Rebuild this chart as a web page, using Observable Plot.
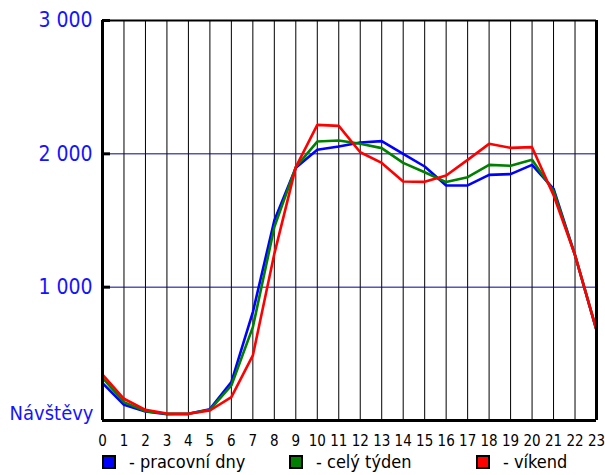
<!DOCTYPE html>
<html>
<head>
<meta charset="utf-8">
<script src="https://cdn.jsdelivr.net/npm/d3@7"></script>
<script src="https://cdn.jsdelivr.net/npm/@observablehq/plot@0.6"></script>
<style>
  html, body { margin: 0; padding: 0; background: #fff; }
  #wrap { position: relative; width: 605px; height: 475px; overflow: hidden; font-family: "DejaVu Sans Condensed", "DejaVu Sans", sans-serif; }
  #chart { position: absolute; left: 0; top: 0; }
  #legend { position: absolute; left: 0; top: 452px; width: 605px; height: 22px; font-size: 18px; color: #000; }
  .item { position: absolute; top: 0; white-space: nowrap; line-height: 20px; height: 22px; }
  .sw { display: inline-block; width: 10px; height: 10px; border: 2px solid #000; vertical-align: middle; margin-right: 13px; position: relative; top: -1px; }
</style>
</head>
<body>
<div id="wrap">
  <div id="chart"></div>
  <div id="legend"></div>
</div>
<script>
const hours = [0,1,2,3,4,5,6,7,8,9,10,11,12,13,14,15,16,17,18,19,20,21,22,23];
const pracovniDny = [280,118,67,48,50,85,288,813,1500,1895,2030,2055,2085,2095,2000,1905,1763,1763,1842,1848,1917,1738,1240,675];
const celyTyden   = [320,138,70,50,50,80,263,700,1450,1900,2092,2100,2075,2043,1932,1862,1788,1825,1917,1910,1955,1720,1240,680];
const vikend      = [345,163,80,52,50,75,175,488,1250,1900,2217,2210,2012,1932,1792,1790,1838,1955,2075,2045,2050,1690,1240,680];
const seriesNames = ["pracovní dny", "celý týden", "víkend"];
const seriesColors = ["#0000ff", "#008000", "#ff0000"];
const yTicks = [1000, 2000, 3000];
const yLabel = "Návštěvy";

const rows = [];
[pracovniDny, celyTyden, vikend].forEach((vals, i) => {
  vals.forEach((v, j) => rows.push({hour: hours[j], value: v, series: seriesNames[i]}));
});

const fmt = d => d3.format(",")(d).replace(/,/g, " ");

const W = 605, ML = 102, MR = 9;
const chart = Plot.plot({
  width: W,
  height: 452,
  marginLeft: ML,
  marginRight: MR,
  marginTop: 20,
  marginBottom: 32,
  style: {fontFamily: '"DejaVu Sans Condensed", "DejaVu Sans", sans-serif', background: "#fff"},
  x: {domain: [0, 23], axis: null, label: null},
  y: {domain: [0, 3000], axis: null, label: null},
  color: {domain: seriesNames, range: seriesColors},
  marks: [
    Plot.ruleX(hours.slice(1, -1), {stroke: "#000", strokeWidth: 1}),
    Plot.ruleY([1000, 2000], {stroke: "#000099", strokeWidth: 1}),
    Plot.line(rows, {x: "hour", y: "value", z: "series", stroke: "series", strokeWidth: 2.6, strokeLinejoin: "miter"}),
    Plot.ruleX([0], {stroke: "#000", strokeWidth: 3}),
    Plot.ruleX([23], {stroke: "#000", strokeWidth: 3}),
    Plot.ruleY([0], {stroke: "#000", strokeWidth: 3}),
    Plot.ruleY([3000], {stroke: "#000", strokeWidth: 2}),
    Plot.tickY(yTicks, {y: d => d, stroke: "#000", strokeWidth: 3, insetRight: W - ML - MR - 8}),
    Plot.axisY(yTicks, {anchor: "left", tickSize: 0, tickPadding: 10, tickFormat: fmt, fontSize: 21, fill: "#1414ff", textStroke: "none", label: null}),
    Plot.text([yLabel], {x: 0, y: 0, text: d => d, textAnchor: "end", dx: -9, dy: -7, fontSize: 20, fill: "#1414ff"}),
    Plot.axisX(hours, {anchor: "bottom", tickSize: 0, tickPadding: 15, fontSize: 15, fill: "#000", label: null})
  ]
});
document.getElementById("chart").appendChild(chart);

const legend = document.getElementById("legend");
const legendLeft = [102, 289, 476];
seriesNames.forEach((name, i) => {
  const item = document.createElement("div");
  item.className = "item";
  item.style.left = legendLeft[i] + "px";
  const sw = document.createElement("span");
  sw.className = "sw";
  sw.style.background = seriesColors[i];
  item.appendChild(sw);
  item.appendChild(document.createTextNode("- " + name));
  legend.appendChild(item);
});
</script>
</body>
</html>
